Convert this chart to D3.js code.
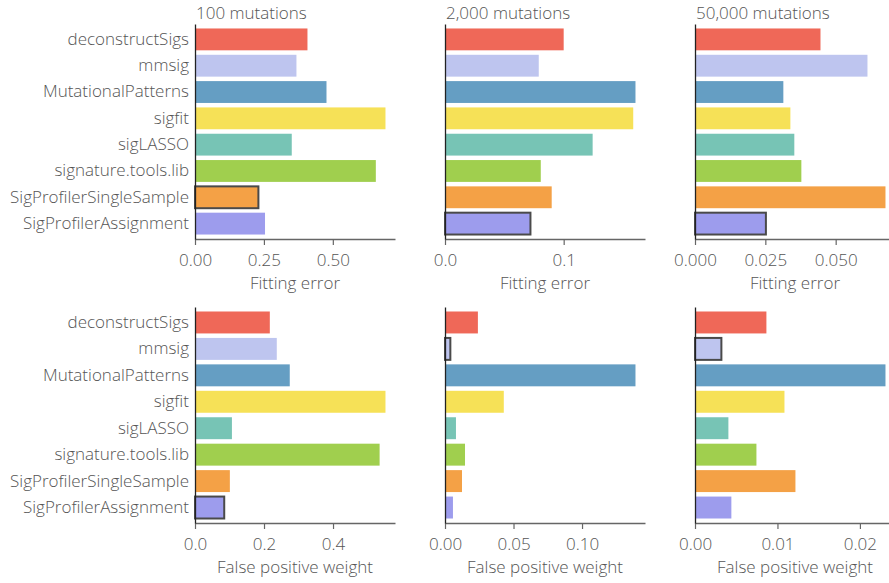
<!DOCTYPE html>
<html>
<head>
<meta charset="utf-8">
<script src="https://cdn.jsdelivr.net/npm/d3@7"></script>
<style>
  html, body { margin: 0; padding: 0; background: #fff; }
  svg { display: block; }
  svg text { font-family: "Open Sans", "Noto Sans", sans-serif; font-weight: 300; }
</style>
</head>
<body>
<svg id="chart" width="889" height="583"></svg>
<script>
// Signature-fitting tools compared
const tools = ["deconstructSigs", "mmsig", "MutationalPatterns", "sigfit", "sigLASSO",
               "signature.tools.lib", "SigProfilerSingleSample", "SigProfilerAssignment"];
const toolColors = ["#ef6858", "#bec5ef", "#659ec3", "#f6e157", "#77c4b5",
                    "#a0cf4e", "#f4a146", "#9d9ced"];

const mutationCounts = ["100 mutations", "2,000 mutations", "50,000 mutations"];

// Fitting error per tool, per mutation burden
const fitErr100 = [0.408, 0.368, 0.477, 0.691, 0.351, 0.656, 0.230, 0.254];
const fitErr2k  = [0.100, 0.079, 0.1605, 0.1586, 0.1244, 0.0807, 0.0899, 0.0720];
const fitErr50k = [0.0446, 0.0613, 0.0314, 0.0339, 0.0353, 0.0378, 0.0677, 0.0252];

// False positive weight per tool, per mutation burden
const fpw100 = [0.2168, 0.237, 0.2746, 0.552, 0.107, 0.535, 0.101, 0.0847];
const fpw2k  = [0.024, 0.0039, 0.139, 0.0429, 0.008, 0.0146, 0.0124, 0.0058];
const fpw50k = [0.00866, 0.0032, 0.0231, 0.01085, 0.00405, 0.00745, 0.01218, 0.00441];

// Axis tick values
const ticksFit100 = [0, 0.25, 0.5];
const ticksFit2k  = [0, 0.1];
const ticksFit50k = [0, 0.025, 0.05];
const ticksFp100  = [0, 0.2, 0.4];
const ticksFp2k   = [0, 0.05, 0.1];
const ticksFp50k  = [0, 0.01, 0.02];

const metricTitles = ["Fitting error", "False positive weight"];

const panels = [
  { row: 0, col: 0, values: fitErr100, ticks: ticksFit100, fmt: ".2f" },
  { row: 0, col: 1, values: fitErr2k,  ticks: ticksFit2k,  fmt: ".1f" },
  { row: 0, col: 2, values: fitErr50k, ticks: ticksFit50k, fmt: ".3f" },
  { row: 1, col: 0, values: fpw100,    ticks: ticksFp100,  fmt: ".1f" },
  { row: 1, col: 1, values: fpw2k,     ticks: ticksFp2k,   fmt: ".2f" },
  { row: 1, col: 2, values: fpw50k,    ticks: ticksFp50k,  fmt: ".2f" }
];

const svg = d3.select("#chart");
const textColor = "#555";
const fontSize = "17px";
const colX = [195, 445, 695];
const panelW = 200;
const rowY = [[24, 239], [307, 523]];

panels.forEach(p => {
  const x0 = colX[p.col];
  const [yTop, yBot] = rowY[p.row];
  const g = svg.append("g");

  const x = d3.scaleLinear()
    .domain([0, d3.max(p.values) * 1.05])
    .range([x0, x0 + panelW]);
  const y = d3.scaleBand()
    .domain(tools)
    .range([yTop, yBot])
    .padding(0.17);

  const best = d3.minIndex(p.values);

  // bars
  g.selectAll("rect.bar")
    .data(tools)
    .join("rect")
    .attr("class", "bar")
    .attr("x", x(0))
    .attr("y", d => y(d))
    .attr("width", (d, i) => x(p.values[i]) - x(0))
    .attr("height", y.bandwidth())
    .attr("fill", (d, i) => toolColors[i])
    .attr("stroke", (d, i) => i === best ? "#4a4a4a" : "none")
    .attr("stroke-width", 2);

  // bottom axis
  const xAxis = g.append("g")
    .attr("transform", `translate(0,${yBot})`)
    .call(d3.axisBottom(x).tickValues(p.ticks).tickFormat(d3.format(p.fmt))
            .tickSize(6).tickPadding(9).tickSizeOuter(0));
  xAxis.attr("font-family", null).attr("font-size", fontSize);
  xAxis.select(".domain").attr("stroke", "#666").attr("stroke-width", 1.3);
  xAxis.selectAll(".tick line").attr("stroke", "#666").attr("stroke-width", 1.2);
  xAxis.selectAll(".tick text").attr("fill", textColor);

  // left axis
  const yAxis = g.append("g")
    .attr("transform", `translate(${x0},0)`)
    .call(d3.axisLeft(y).tickSize(0).tickPadding(6));
  yAxis.attr("font-family", null).attr("font-size", fontSize);
  yAxis.select(".domain").attr("stroke", "#222").attr("stroke-width", 1.3);
  yAxis.selectAll(".tick text")
    .attr("fill", textColor)
    .style("display", p.col === 0 ? null : "none");

  // x-axis title
  g.append("text")
    .attr("x", x0 + panelW / 2)
    .attr("y", yBot + 50)
    .attr("text-anchor", "middle")
    .attr("fill", textColor)
    .style("font-size", fontSize)
    .text(metricTitles[p.row]);

  // column title
  if (p.row === 0) {
    g.append("text")
      .attr("x", x0 + 1)
      .attr("y", 19)
      .attr("fill", textColor)
      .style("font-size", fontSize)
      .text(mutationCounts[p.col]);
  }
});
</script>
</body>
</html>
